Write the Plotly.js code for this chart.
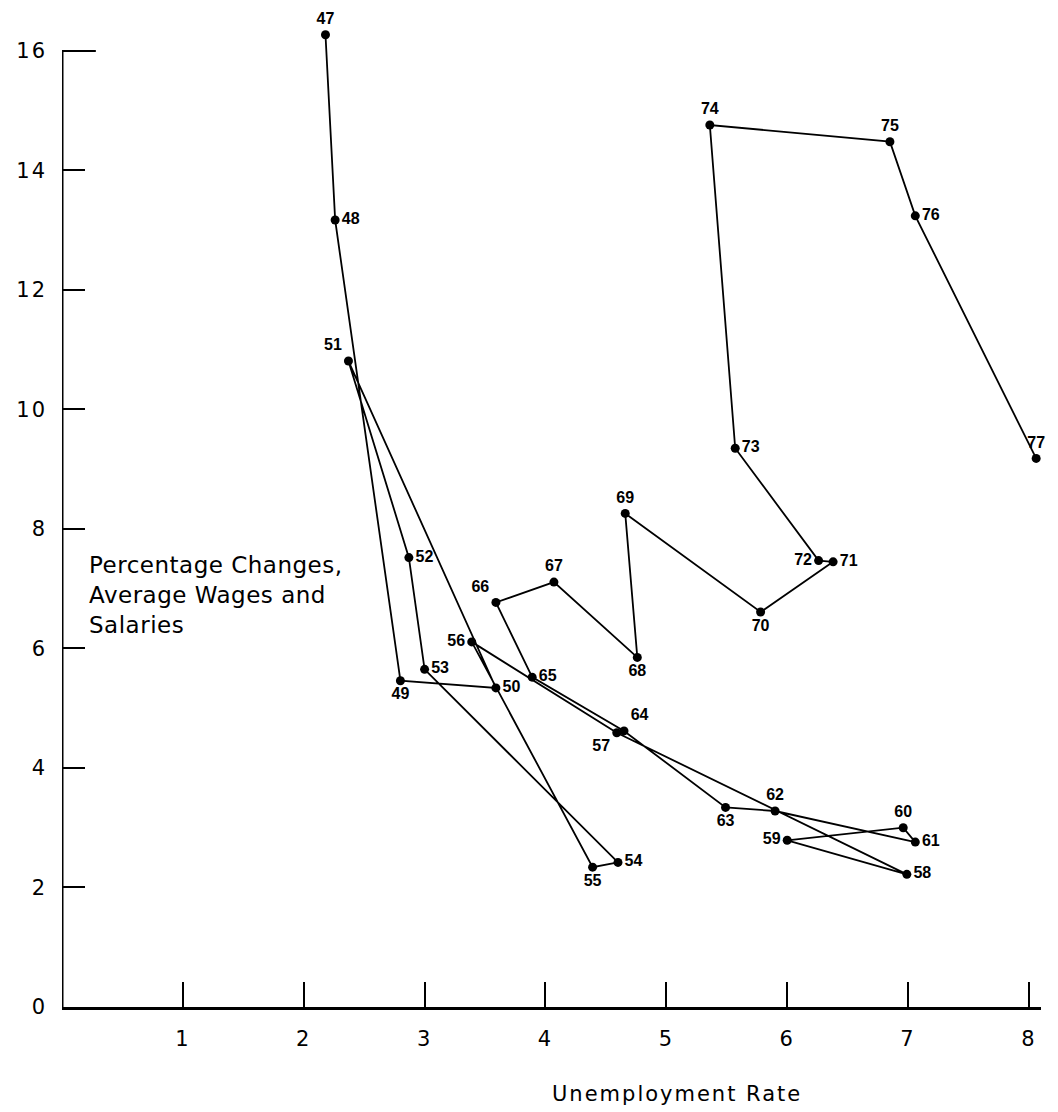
<!DOCTYPE html>
<html>
<head>
<meta charset="utf-8">
<script src="https://cdn.plot.ly/plotly-3.0.1.min.js"></script>
<style>
  html, body { margin: 0; padding: 0; background: #fff; }
  #chart { width: 1058px; height: 1112px; }
  .xaxislayer-above text, .yaxislayer-above text { letter-spacing: 2px; }
  g.annotation[data-index="0"] text { letter-spacing: 2px; }
  g.annotation[data-index="1"] text { letter-spacing: 0.5px; }
</style>
</head>
<body>
<div id="chart"></div>
<script>
// Year labels (19xx)
const years = ["47","48","49","50","51","52","53","54","55","56","57","58","59","60","61","62",
               "63","64","65","66","67","68","69","70","71","72","73","74","75","76","77"];
// Unemployment rate (%)
const unemployment = [2.18, 2.26, 2.80, 3.59, 2.37, 2.87, 3.00, 4.60, 4.39, 3.39, 4.59, 6.99, 6.00, 6.96, 7.06, 5.90,
                      5.49, 4.65, 3.89, 3.59, 4.07, 4.76, 4.66, 5.78, 6.38, 6.26, 5.57, 5.36, 6.85, 7.06, 8.06];
// Percentage change, average wages and salaries
const wageChange = [16.27, 13.17, 5.46, 5.34, 10.81, 7.52, 5.65, 2.42, 2.34, 6.11, 4.59, 2.22, 2.79, 3.00, 2.76, 3.28,
                    3.34, 4.62, 5.52, 6.77, 7.11, 5.85, 8.26, 6.61, 7.45, 7.47, 9.35, 14.76, 14.48, 13.24, 9.18];
// Where each year label sits next to its point
const labelPos = ["top center","middle right","bottom center","middle right","top left","middle right","middle right",
                  "middle right","bottom center","middle left","bottom left","middle right","middle left","top center",
                  "middle right","top center","bottom center","top right","middle right","top left","top center",
                  "bottom center","top center","bottom center","middle right","middle left","middle right",
                  "top center","top center","middle right","top center"];
const xTicks = [1,2,3,4,5,6,7,8];
const yTicks = [0,2,4,6,8,10,12,14,16];
const xTitle = "Unemployment Rate";
const yTitle = "Percentage Changes,<br>Average Wages and<br>Salaries";

const trace = {
  type: "scatter",
  mode: "lines+markers+text",
  x: unemployment,
  y: wageChange,
  text: years,
  textposition: labelPos,
  textfont: { family: "Liberation Sans Narrow, Liberation Sans, Arial, sans-serif", size: 16, color: "#000", weight: "bold" },
  line: { color: "#000", width: 1.8 },
  marker: { color: "#000", size: 9 },
  cliponaxis: false,
  hoverinfo: "none"
};

const layout = {
  width: 1058,
  height: 1112,
  autosize: false,
  margin: { l: 62, r: 17, t: 21, b: 105, pad: 0 },
  paper_bgcolor: "#fff",
  plot_bgcolor: "#fff",
  showlegend: false,
  font: { family: "DejaVu Sans, sans-serif", color: "#000" },
  xaxis: {
    range: [0, 8.1],
    tickvals: xTicks,
    ticktext: xTicks.map(String),
    ticks: "inside",
    ticklen: 25,
    tickwidth: 2,
    tickcolor: "#000",
    showline: true,
    linecolor: "#000",
    linewidth: 3,
    showgrid: false,
    zeroline: false,
    ticklabelstandoff: 11,
    tickfont: { family: "DejaVu Sans, sans-serif", size: 21, color: "#000" },
    fixedrange: true
  },
  yaxis: {
    range: [0, 16.5],
    tickvals: yTicks,
    ticktext: yTicks.map(String),
    ticks: "inside",
    ticklen: 23,
    tickwidth: 2,
    tickcolor: "#000",
    showline: false,
    showgrid: false,
    zeroline: false,
    ticklabelstandoff: 14,
    tickfont: { family: "DejaVu Sans, sans-serif", size: 21, color: "#000" },
    fixedrange: true
  },
  shapes: [
    { type: "line", xref: "x", yref: "y", x0: 0, x1: 0, y0: 0, y1: 16, line: { color: "#000", width: 3 } },
    { type: "line", xref: "x", yref: "y", x0: 0, x1: 0.28, y0: 16, y1: 16, line: { color: "#000", width: 2 } }
  ],
  annotations: [
    { text: xTitle, xref: "x", yref: "paper", x: 5.09, y: -0.088, xanchor: "center", yanchor: "middle",
      showarrow: false, font: { family: "DejaVu Sans, sans-serif", size: 21, color: "#000" } },
    { text: yTitle, xref: "x", yref: "y", x: 0.21, y: 6.9, xanchor: "left", yanchor: "middle", align: "left",
      showarrow: false, font: { family: "DejaVu Sans, sans-serif", size: 23, color: "#000" } }
  ]
};

Plotly.newPlot("chart", [trace], layout, { displayModeBar: false, staticPlot: true });
</script>
</body>
</html>
